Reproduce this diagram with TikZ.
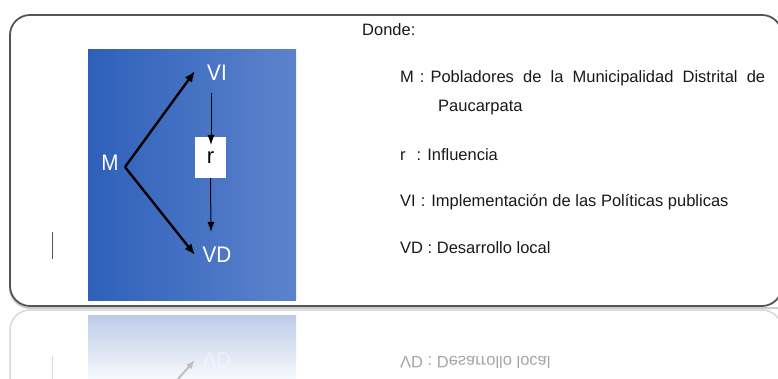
\documentclass[tikz,border=0pt]{standalone}
\usepackage{fontspec}
\setmainfont{Liberation Sans}
\usetikzlibrary{arrows.meta}
\definecolor{bluedark}{RGB}{46,96,186}
\definecolor{bluemid}{RGB}{60,110,200}
\definecolor{bluelight}{RGB}{93,131,204}
\definecolor{frame}{RGB}{85,85,85}
\tikzset{
  lbl/.style={text=white,font=\fontsize{22.5}{26}\selectfont,inner sep=0pt},
  legend/.style={anchor=base west,inner sep=0pt,font=\fontsize{16.5}{19}\selectfont,text=black!90},
  thickarrow/.style={line width=2.4pt,-{Latex[length=11pt,width=9pt]}},
  thinarrow/.style={line width=1pt,-{Latex[length=10pt,width=7pt]}},
  rbox/.style={fill=white,minimum width=31pt,minimum height=41pt,inner sep=0pt,font=\fontsize{22}{24}\selectfont},
  refltext/.style={inner sep=0pt,opacity=0.35}
}
\newcommand{\nar}[1]{\scalebox{0.92}[1]{#1}}
\begin{document}
\begin{tikzpicture}[x=1pt,y=-1pt]
\useasboundingbox (0,0) rectangle (778,379);
% reflection
\shade[top color=bluedark!32,bottom color=bluedark!4] (88,315) rectangle (296,379);
\draw[gray!30,line width=1.5pt,rounded corners=20pt] (10,379) -- (10,310) -- (782,310) -- (782,379);
\draw[gray!30,line width=1pt] (52,356) -- (52,379);
\node[refltext,text=white,font=\fontsize{22.5}{26}\selectfont] (rvd) at (217,360) {\scalebox{0.92}[-1]{VD}};
\coordinate (ra) at (195,360);
\coordinate (rb) at (178,379);
\draw[black!25,line width=2pt,{Latex[length=9pt,width=7pt]}-] (ra) -- (rb);
\node[refltext,anchor=west,text=black,font=\fontsize{16.5}{19}\selectfont] (rleg) at (400,362) {\scalebox{1}[-1]{VD : Desarrollo local}};
% frame
\draw[gray!40,line width=2pt,rounded corners=20pt] (10,290) -- (10,308) -- (782,308);
\draw[frame,line width=1.8pt,rounded corners=20pt] (10,15) rectangle (782,306);
% blue panel
\shade[left color=bluedark,middle color=bluemid,right color=bluelight] (88,50) rectangle (296,300);
\draw[frame,line width=1pt] (52,232) -- (52,259);
% nodes
\node[lbl] (m) at (110,163) {\nar{M}};
\node[lbl] (vi) at (217,73) {\nar{VI}};
\node[lbl] (vd) at (217,255) {\nar{VD}};
\node[rbox] (r) at (210.5,157.5) {r};
\coordinate (mv) at (125,167);
\coordinate (vit) at (195,71);
\coordinate (vdt) at (195,255);
\coordinate (vis) at (211,93);
\coordinate (rin) at (211,145);
\coordinate (vdin) at (211,232);
\draw[thickarrow] (mv) -- (vit);
\draw[thickarrow] (mv) -- (vdt);
\draw[thinarrow] (vis) -- (rin);
\draw[thinarrow] (r.south) -- (vdin);
% legend
\node[legend] (donde) at (362,36) {Donde:};
\node[legend] (lm) at (400,83) {\makebox[365pt][s]{M\hspace{6pt}:\hspace{6pt}Pobladores de la Municipalidad Distrital de}};
\node[legend] (lm2) at (438,112) {Paucarpata};
\node[legend] (lr) at (400,161) {r\hspace{11pt}:\hspace{6pt}Influencia};
\node[legend] (lvi) at (400,207) {VI\hspace{5pt}:\hspace{6pt}Implementación de las Políticas publicas};
\node[legend] (lvd) at (400,253) {VD : Desarrollo local};
\end{tikzpicture}
\end{document}
